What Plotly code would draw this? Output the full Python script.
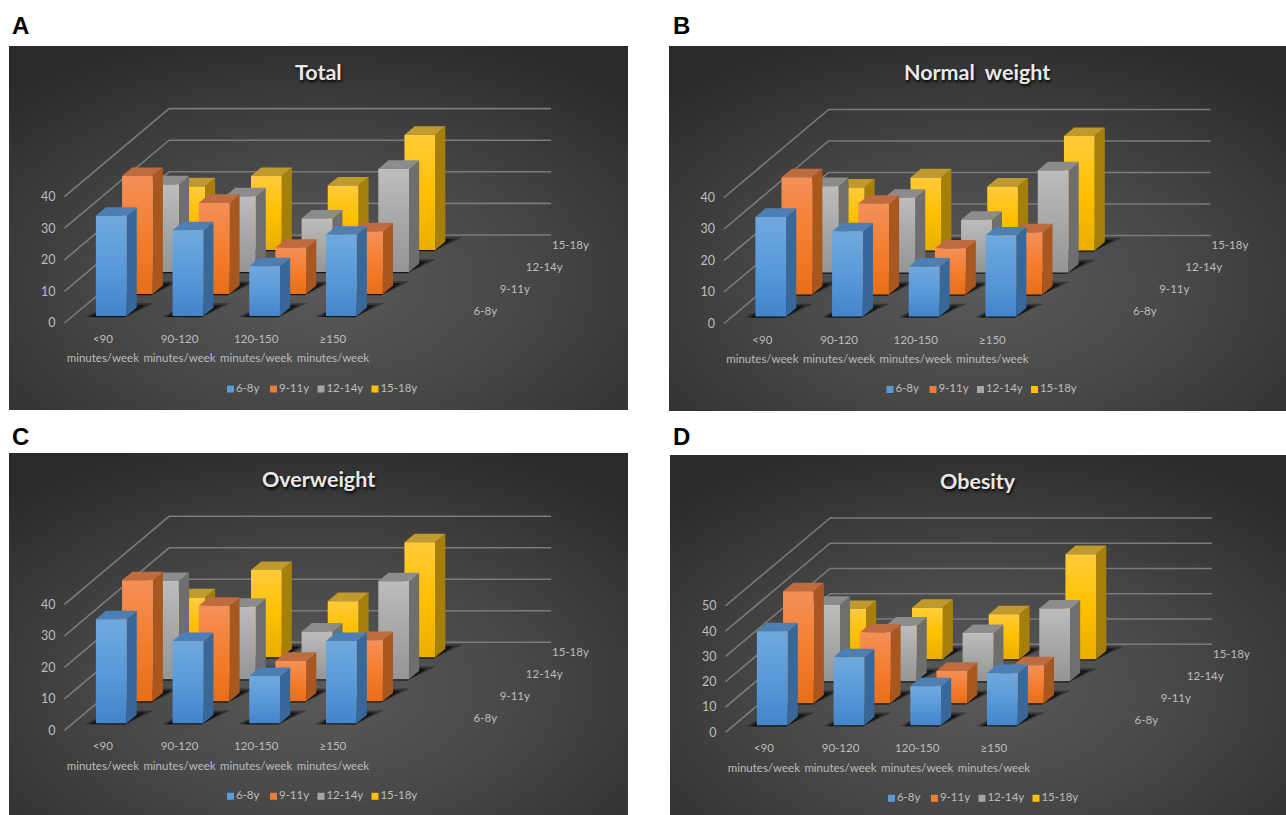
import base64
import plotly.graph_objects as go

CATEGORIES = ["<90", "90-120", "120-150", "≥150"]
CATEGORY_UNIT = "minutes/week"
AGE_GROUPS = ["6-8y", "9-11y", "12-14y", "15-18y"]

# Percentages per activity level, one list per age group
TOTAL_6_8 = [31.7, 27.1, 15.7, 25.7]
TOTAL_9_11 = [37.3, 28.8, 14.6, 19.8]
TOTAL_12_14 = [27.7, 23.9, 16.9, 32.6]
TOTAL_15_18 = [20.1, 23.4, 20.4, 36.4]

NORMAL_6_8 = [31.6, 27.0, 15.8, 25.7]
NORMAL_9_11 = [37.2, 28.8, 14.6, 19.7]
NORMAL_12_14 = [27.4, 23.7, 16.7, 32.4]
NORMAL_15_18 = [20.0, 23.2, 20.3, 36.3]

OVER_6_8 = [33.0, 26.1, 15.0, 26.1]
OVER_9_11 = [38.4, 30.3, 12.8, 19.4]
OVER_12_14 = [31.2, 23.0, 15.1, 31.1]
OVER_15_18 = [19.0, 27.7, 17.8, 36.5]

OBESE_6_8 = [37.2, 26.9, 15.4, 20.6]
OBESE_9_11 = [44.3, 28.0, 12.8, 15.0]
OBESE_12_14 = [30.2, 22.0, 19.1, 28.8]
OBESE_15_18 = [19.9, 20.4, 17.8, 41.6]

PANELS = [
    dict(letter="A", title="Total", series=[TOTAL_6_8, TOTAL_9_11, TOTAL_12_14, TOTAL_15_18],
         box=(9, 46, 628, 410), wall=64.5, zero=323.0, per10=31.6, ymax=40,
         title_xy=(318, 72), letter_xy=(20, 25)),
    dict(letter="B", title="Normal\u00a0 weight", series=[NORMAL_6_8, NORMAL_9_11, NORMAL_12_14, NORMAL_15_18],
         box=(669, 46, 1286, 411), wall=724.0, zero=323.5, per10=31.5, ymax=40,
         title_xy=(977, 72), letter_xy=(681, 25)),
    dict(letter="C", title="Overweight", series=[OVER_6_8, OVER_9_11, OVER_12_14, OVER_15_18],
         box=(9, 453, 628, 815), wall=64.5, zero=730.3, per10=31.5, ymax=40,
         title_xy=(318, 479), letter_xy=(20, 436)),
    dict(letter="D", title="Obesity", series=[OBESE_6_8, OBESE_9_11, OBESE_12_14, OBESE_15_18],
         box=(670, 455, 1286, 815), wall=725.5, zero=732.3, per10=25.27, ymax=50,
         title_xy=(978, 481), letter_xy=(681, 436)),
]

W, H = 1286, 815
STEP = 76.7       # pixels per category along the front edge
CELL_DX = 26.15   # oblique shift per age group
CELL_DY = 22.0
FRONT, BACK = 0.32, 0.71   # bar extent inside one depth cell
HALF_BAR = 0.2
GRID_END = 4.48
AXIS_GAP = 8      # y axis sits just right of its labels

FONT = "Lato, 'Open Sans', sans-serif"
LABEL_COLOR = "#bdbdbd"
LABEL_SIZE = 11.5

FACE = [
    dict(top="#4d7fb5", side="#386899",
         front=[[0, "#4285cb"], [0.5, "#5a9ad9"], [1, "#70a9de"]], key="#5b9bd5"),
    dict(top="#bd6b3f", side="#a9571f",
         front=[[0, "#e86f18"], [0.5, "#f57e2f"], [1, "#f49058"]], key="#ed7d31"),
    dict(top="#8c8c8c", side="#6e6e6e",
         front=[[0, "#959595"], [0.5, "#a8a8a8"], [1, "#bdbdbd"]], key="#a5a5a5"),
    dict(top="#c09a2c", side="#a57f0a",
         front=[[0, "#e9ae00"], [0.5, "#ffc000"], [1, "#ffcb3b"]], key="#ffc000"),
]

KEY_OFFSETS = [166, 209, 256.5, 310.5]   # key squares, measured from the side wall

backdrop_svg = (
    '<svg xmlns="http://www.w3.org/2000/svg" width="620" height="365" preserveAspectRatio="none">'
    '<defs><radialGradient id="g" cx="0.5" cy="0.65" r="0.72">'
    '<stop offset="0" stop-color="#5a5a5a"/><stop offset="0.45" stop-color="#484848"/>'
    '<stop offset="1" stop-color="#2b2b2b"/></radialGradient></defs>'
    '<rect width="620" height="365" fill="url(#g)"/></svg>'
)
BACKDROP = "data:image/svg+xml;base64," + base64.b64encode(backdrop_svg.encode()).decode()

fig = go.Figure()
images, annotations, layout_axes = [], [], {}

for n, panel in enumerate(PANELS, start=1):
    left, top, right, bottom = panel["box"]
    wall, zero, ppu = panel["wall"], panel["zero"], panel["per10"] / 10
    ax_left = wall - AXIS_GAP
    cat_of_px = lambda px: (px - wall) / STEP - 0.5
    val_of_py = lambda py: (zero - py) / ppu
    dcat, dval = CELL_DX / STEP, CELL_DY / ppu
    suffix = "" if n == 1 else str(n)
    xa, ya = f"x{suffix}", f"y{suffix}"

    def project(cat, depth, value):
        return cat + depth * dcat, value + depth * dval

    def polygon(points, **style):
        xs, ys = zip(*points)
        fig.add_trace(go.Scatter(
            x=list(xs) + [xs[0]], y=list(ys) + [ys[0]], xaxis=xa, yaxis=ya,
            mode="lines", line=dict(width=0), fill="toself", hoverinfo="skip",
            showlegend=False, **style))

    # Oblique gridlines: side wall, then back wall
    for level in range(0, panel["ymax"] + 1, 10):
        pts = [project(-0.5, 0, level), project(-0.5, 4, level), project(GRID_END, 4, level)]
        fig.add_trace(go.Scatter(
            x=[p[0] for p in pts], y=[p[1] for p in pts], xaxis=xa, yaxis=ya,
            mode="lines", line=dict(color="#7b7b7b", width=1.6),
            hoverinfo="skip", showlegend=False))

    # Bars are painted back to front so nearer rows overlap farther ones
    for row in reversed(range(4)):
        values = panel["series"][row]
        f, b = row + FRONT, row + BACK
        face = FACE[row]
        for c, value in enumerate(values):
            x0, x1 = c - HALF_BAR, c + HALF_BAR
            for grow, alpha in ((0.12, 0.35), (0.06, 0.6)):
                polygon([project(x0 - grow, f - 0.05, 0), project(x1, f - 0.06, 0),
                         project(x1 + grow * 1.3, b + grow * 1.6, 0), project(x0, b + grow * 1.6, 0)],
                        fillcolor=f"rgba(0,0,0,{alpha})")
            polygon([project(x1, f, 0), project(x1, b, 0), project(x1, b, value), project(x1, f, value)],
                    fillcolor=face["side"])
            polygon([project(x0, f, value), project(x1, f, value), project(x1, b, value), project(x0, b, value)],
                    fillcolor=face["top"])
            polygon([project(x0, f, 0), project(x1, f, 0), project(x1, f, value), project(x0, f, value)],
                    fillgradient=dict(type="vertical", colorscale=face["front"]))

    # Second line of each category label
    unit_y = val_of_py(zero + 36.5)
    fig.add_trace(go.Scatter(
        x=list(range(4)), y=[unit_y] * 4, xaxis=xa, yaxis=ya, mode="text",
        text=[CATEGORY_UNIT] * 4, textposition="middle center",
        textfont=dict(family=FONT, size=LABEL_SIZE, color=LABEL_COLOR),
        hoverinfo="skip", showlegend=False))

    # Age group labels along the right of the floor
    points = [project(GRID_END + 14 / STEP, i + 0.5, 0) for i in range(4)]
    fig.add_trace(go.Scatter(
        x=[p[0] for p in points], y=[p[1] for p in points], xaxis=xa, yaxis=ya, mode="text",
        text=AGE_GROUPS, textposition="middle right",
        textfont=dict(family=FONT, size=LABEL_SIZE, color=LABEL_COLOR),
        hoverinfo="skip", showlegend=False))

    # Key under the plot: one small square and label per age group
    for row, offset in enumerate(KEY_OFFSETS):
        fig.add_trace(go.Scatter(
            x=[cat_of_px(wall + offset)], y=[val_of_py(zero + 66)],
            xaxis=xa, yaxis=ya, mode="markers+text", name=AGE_GROUPS[row],
            marker=dict(symbol="square", size=7, color=FACE[row]["key"]),
            text=[AGE_GROUPS[row]], textposition="middle right",
            textfont=dict(family=FONT, size=LABEL_SIZE, color=LABEL_COLOR),
            hoverinfo="skip", showlegend=False))

    layout_axes[f"xaxis{suffix}"] = dict(
        domain=[ax_left / W, right / W], range=[cat_of_px(ax_left), cat_of_px(right)],
        anchor="free", position=1 - (zero + 7.5) / H, showgrid=False, zeroline=False, showline=False,
        tickmode="array", tickvals=list(range(4)), ticktext=CATEGORIES,
        ticks="", ticklen=0,
        tickfont=dict(family=FONT, size=LABEL_SIZE, color=LABEL_COLOR), fixedrange=True)
    layout_axes[f"yaxis{suffix}"] = dict(
        domain=[1 - bottom / H, 1 - top / H], range=[val_of_py(bottom), val_of_py(top)],
        anchor=xa, side="left", showgrid=False, zeroline=False, showline=False,
        tickmode="array", tickvals=list(range(0, panel["ymax"] + 1, 10)),
        ticks="", tickfont=dict(family=FONT, size=12.5, color=LABEL_COLOR), fixedrange=True)

    images.append(dict(
        source=BACKDROP, xref="paper", yref="paper", x=left / W, y=1 - top / H,
        sizex=(right - left) / W, sizey=(bottom - top) / H, sizing="stretch",
        xanchor="left", yanchor="top", layer="below"))

    tx, ty = panel["title_xy"]
    annotations.append(dict(
        text=f"<b>{panel['title']}</b>", xref="paper", yref="paper", x=tx / W, y=1 - ty / H,
        xanchor="center", yanchor="middle", showarrow=False,
        font=dict(family=FONT, size=21.5, color="#e8e8e8", shadow="1px 2px 3px #000000")))
    lx, ly = panel["letter_xy"]
    annotations.append(dict(
        text=f"<b>{panel['letter']}</b>", xref="paper", yref="paper", x=lx / W, y=1 - ly / H,
        xanchor="center", yanchor="middle", showarrow=False,
        font=dict(family="Liberation Sans, Arial, sans-serif", size=24, color="#000000")))

fig.update_layout(
    width=W, height=H, margin=dict(l=0, r=0, t=0, b=0), autosize=False,
    paper_bgcolor="#ffffff", plot_bgcolor="rgba(0,0,0,0)", showlegend=False,
    images=images, annotations=annotations, **layout_axes)

fig.write_html("out.html")
